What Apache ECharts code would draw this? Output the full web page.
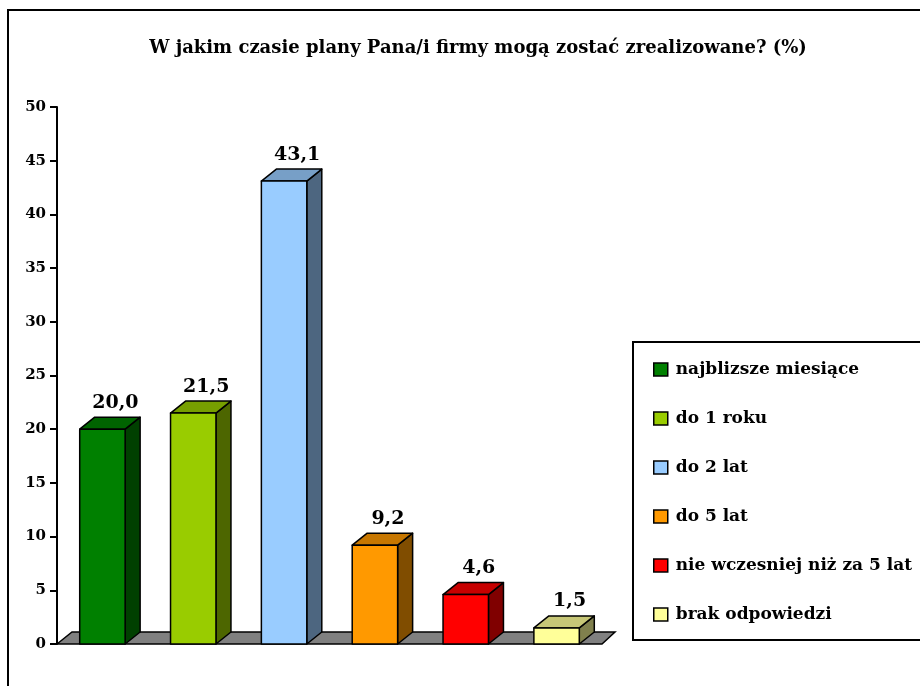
<!DOCTYPE html>
<html>
<head>
<meta charset="utf-8">
<script src="https://cdn.jsdelivr.net/npm/echarts@6/dist/echarts.min.js"></script>
<style>
  html, body { margin: 0; padding: 0; background: #fff; }
  #chart { width: 920px; height: 686px; }
</style>
</head>
<body>
<div id="chart"></div>
<script>
var categories = ["najblizsze miesiące", "do 1 roku", "do 2 lat", "do 5 lat", "nie wczesniej niż za 5 lat", "brak odpowiedzi"];
var values = [20.0, 21.5, 43.1, 9.2, 4.6, 1.5];
var frontColors = ["#008000", "#99CC00", "#99CCFF", "#FF9900", "#FF0000", "#FFFF99"];

var FONT = "'DejaVu Serif', 'Liberation Serif', serif";
var DX = 15, DY = 12; // 3d depth

function shade(hex, k) {
  var n = parseInt(hex.slice(1), 16);
  var r = Math.round(((n >> 16) & 255) * k);
  var g = Math.round(((n >> 8) & 255) * k);
  var b = Math.round((n & 255) * k);
  return "rgb(" + r + "," + g + "," + b + ")";
}

function barItem(params, api) {
  var idx = api.value(0);
  var v = api.value(1);
  var c = frontColors[idx];
  var top = api.coord([idx, v]);
  var base = api.coord([idx, 0]);
  var w = api.size([1, 0])[0] * 0.5;
  var x0 = top[0] - w / 2, x1 = top[0] + w / 2;
  var y0 = top[1], y1 = base[1];
  var st = { stroke: "#000", lineWidth: 1.5, lineJoin: "round" };
  return {
    type: "group",
    children: [
      { type: "polygon", shape: { points: [[x1, y0], [x1 + DX, y0 - DY], [x1 + DX, y1 - DY], [x1, y1]] },
        style: Object.assign({ fill: shade(c, 0.5) }, st) },
      { type: "polygon", shape: { points: [[x0, y0], [x0 + DX, y0 - DY], [x1 + DX, y0 - DY], [x1, y0]] },
        style: Object.assign({ fill: shade(c, 0.78) }, st) },
      { type: "rect", shape: { x: x0, y: y0, width: x1 - x0, height: y1 - y0 },
        style: Object.assign({ fill: c }, st) },
      { type: "text", x: top[0] + 13, y: y0 - DY - 5,
        style: { text: v.toFixed(1).replace(".", ","), fill: "#000", font: "bold 19px " + FONT,
                 align: "center", verticalAlign: "bottom" } }
    ]
  };
}

function floorItem(params, api) {
  var cs = params.coordSys;
  var xl = cs.x, xr = cs.x + cs.width, y = cs.y + cs.height;
  return {
    type: "polygon",
    z2: -1,
    shape: { points: [[xl, y], [xl + DX, y - DY], [xr + DX - 2, y - DY], [xr, y]] },
    style: { fill: "#808080", stroke: "#000", lineWidth: 1.5 }
  };
}

var series = [{
  type: "custom",
  name: "floor",
  z: 1,
  renderItem: floorItem,
  data: [[0, 0]],
  silent: true
}];
categories.forEach(function (name, i) {
  series.push({
    type: "custom",
    name: name,
    z: 2 + (categories.length - i),
    color: frontColors[i],
    renderItem: barItem,
    encode: { x: 0, y: 1 },
    data: [[i, values[i]]]
  });
});

var chart = echarts.init(document.getElementById("chart"));
chart.setOption({
  backgroundColor: "#fff",
  animation: false,
  title: {
    text: "W jakim czasie plany Pana/i firmy mogą zostać zrealizowane? (%)",
    left: 473, top: 34, textAlign: "center",
    textStyle: { fontFamily: FONT, fontWeight: "bold", fontSize: 18, color: "#000" }
  },
  grid: { left: 57, right: 318, top: 107, bottom: 42 },
  xAxis: {
    type: "category",
    data: categories,
    boundaryGap: true,
    axisLine: { show: false },
    axisTick: { show: false },
    axisLabel: { show: false },
    splitLine: { show: false }
  },
  yAxis: {
    type: "value",
    min: 0, max: 50, interval: 5,
    axisLine: { show: true, lineStyle: { color: "#000", width: 2 } },
    axisTick: { show: true, length: 7, lineStyle: { color: "#000", width: 2 } },
    axisLabel: { color: "#000", fontFamily: FONT, fontWeight: "bold", fontSize: 15, margin: 11 },
    splitLine: { show: false }
  },
  legend: {
    data: categories,
    orient: "vertical",
    left: 648, top: 356,
    itemWidth: 14, itemHeight: 13, itemGap: 32,
    icon: "rect",
    itemStyle: { borderColor: "#000", borderWidth: 1.5 },
    textStyle: { fontFamily: FONT, fontWeight: "bold", fontSize: 17, color: "#000", padding: [0, 0, 0, 3] },
    selectedMode: false
  },
  graphic: [
    { type: "rect", shape: { x: 8, y: 10, width: 960, height: 720 },
      style: { fill: "none", stroke: "#000", lineWidth: 2 }, z: 100 },
    { type: "rect", shape: { x: 633, y: 342, width: 400, height: 298 },
      style: { fill: "none", stroke: "#000", lineWidth: 2 }, z: 100 }
  ],
  series: series
});
</script>
</body>
</html>
